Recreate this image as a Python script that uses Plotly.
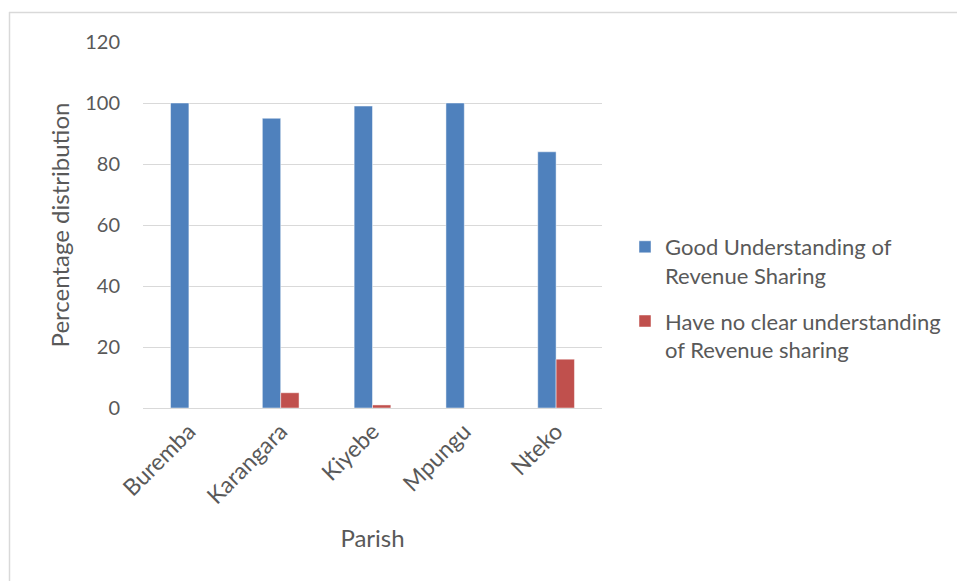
import plotly.graph_objects as go

parishes = ["Buremba", "Karangara", "Kiyebe", "Mpungu", "Nteko"]
good_understanding = [100, 95, 99, 100, 84]
no_clear_understanding = [0, 5, 1, 0, 16]
series_names = [
    "Good Understanding of<br>Revenue Sharing",
    "Have no clear understanding<br>of Revenue sharing",
]
y_ticks = [0, 20, 40, 60, 80, 100, 120]

W, H = 957, 581
L, R, T, B = 143, 355, 42, 173
PW, PH = W - L - R, H - T - B

def px_x(x):
    return (x - L) / PW

def px_y(y):
    return (H - B - y) / PH

FONT = "Lato"
TXT = "#595959"
GRID = "#D9D9D9"

fig = go.Figure()
fig.add_trace(go.Bar(
    x=parishes, y=good_understanding, name=series_names[0], legendgroup="good",
    marker=dict(color="#4F81BD", line=dict(color="rgba(255,255,255,0.6)", width=0.8)),
))
fig.add_trace(go.Bar(
    x=parishes, y=no_clear_understanding, name=series_names[1], legendgroup="unclear",
    marker=dict(color="#C0504D", line=dict(color="rgba(255,255,255,0.6)", width=0.8)),
))

fig.update_layout(
    width=W, height=H,
    margin=dict(l=L, r=R, t=T, b=B, pad=0, autoexpand=False),
    paper_bgcolor="white", plot_bgcolor="white",
    barmode="group", bargap=0.6, bargroupgap=0,
    font=dict(family=FONT, color=TXT, size=20),
    legend=dict(
        x=px_x(625), y=px_y(226), xanchor="left", yanchor="top",
        font=dict(family=FONT, size=22, color=TXT),
        tracegroupgap=14, itemwidth=30, valign="top",
        bgcolor="rgba(0,0,0,0)",
    ),
    xaxis=dict(
        tickangle=-45, tickfont=dict(size=23, color=TXT),
        showgrid=False, showline=True, linecolor=GRID, linewidth=1,
        ticks="", title=dict(text="Parish", font=dict(size=24, color=TXT), standoff=22),
    ),
    yaxis=dict(
        range=[0, 120], tickvals=y_ticks, tickfont=dict(size=20, color=TXT),
        showgrid=True, gridcolor=GRID, gridwidth=1, zeroline=False,
        showline=False, ticks="", ticklabelstandoff=22,
        title=dict(text="Percentage distribution", font=dict(size=24, color=TXT), standoff=8),
    ),
    shapes=[
        dict(type="line", xref="paper", yref="paper",
             x0=px_x(9), x1=px_x(957), y0=px_y(12.5), y1=px_y(12.5),
             line=dict(color=GRID, width=1.5)),
        dict(type="line", xref="paper", yref="paper",
             x0=px_x(9.5), x1=px_x(9.5), y0=px_y(12), y1=px_y(581),
             line=dict(color=GRID, width=1.5)),
    ],
)

fig.write_html("out.html")
